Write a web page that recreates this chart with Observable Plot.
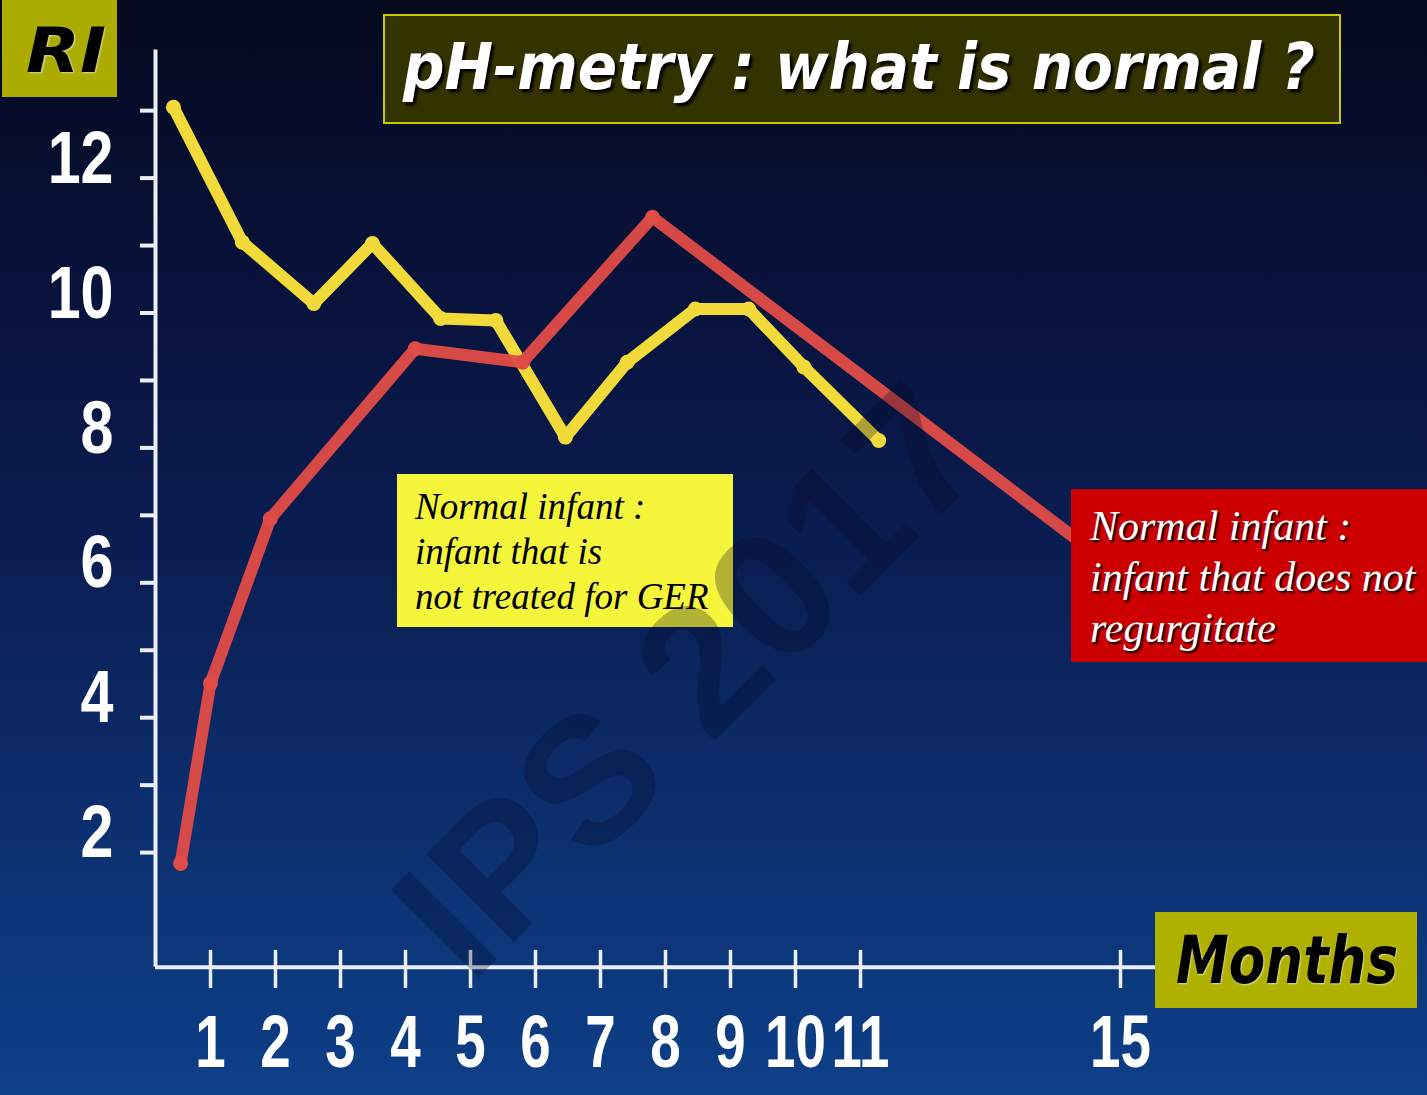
<!DOCTYPE html>
<html>
<head>
<meta charset="utf-8">
<script src="https://cdn.jsdelivr.net/npm/d3@7"></script>
<script src="https://cdn.jsdelivr.net/npm/@observablehq/plot@0.6"></script>
<style>
  html, body { margin: 0; padding: 0; background: #07102e; }
  #wrap {
    position: relative; width: 1427px; height: 1095px; overflow: hidden;
    background: linear-gradient(to bottom, #05091e 0%, #08123a 25%, #0a1d52 50%, #0c2f6e 75%, #0d3f88 100%);
  }
  #wrap svg { position: absolute; left: 0; top: 0; }
  .box { position: absolute; box-sizing: border-box; }
  .comic { font-family: "DejaVu Sans", sans-serif; font-style: oblique; font-weight: bold; white-space: nowrap; }
  .serif { font-family: "Liberation Serif", "Times New Roman", serif; font-style: italic; white-space: nowrap; }
</style>
</head>
<body>
<div id="wrap"></div>
<script>
// ---- data ----
const yellowMonths = [0.43, 1.49, 2.59, 3.49, 4.54, 5.39, 6.46, 7.41, 8.46, 9.28, 10.13, 11.28];
const yellowRI     = [13.05, 11.05, 10.14, 11.03, 9.92, 9.89, 8.16, 9.27, 10.06, 10.06, 9.20, 8.11];
const redMonths    = [0.54, 1.00, 1.92, 4.15, 5.80, 7.80, 15.0];
const redRI        = [1.84, 4.51, 6.95, 9.47, 9.27, 11.42, 6.15];
const xTicks  = [1, 2, 3, 4, 5, 6, 7, 8, 9, 10, 11, 15];
const yTicks  = [2, 3, 4, 5, 6, 7, 8, 9, 10, 11, 12, 13];
const yLabels = [2, 4, 6, 8, 10, 12];
const titleText = "pH-metry : what is normal ?";
const yAxisTitle = "RI";
const xAxisTitle = "Months";
const yellowNote = ["Normal infant :", "infant that is", "not treated for GER"];
const redNote = ["Normal infant :", "infant that does not", "regurgitate"];
const watermark = "IPS 2017";

const yellow = yellowMonths.map((m, i) => ({month: m, ri: yellowRI[i]}));
const red = redMonths.map((m, i) => ({month: m, ri: redRI[i]}));

const axisColor = "#eceef6";
const yellowColor = "#f1da3a";
const redColor = "#e24c47";
const digitFont = "'Liberation Sans', Arial, sans-serif";

const chart = Plot.plot({
  width: 1427,
  height: 1095,
  margin: 0,
  style: {background: "transparent", overflow: "visible"},
  x: {domain: [0, 20], range: [145, 145 + 20 * 65], axis: null},
  y: {domain: [0, 13], range: [987, 987 - 13 * 67.45], axis: null},
  marks: [
    Plot.ruleX([0.154], {y1: 0.3, y2: 13.9, stroke: axisColor, strokeWidth: 4}),
    Plot.ruleY([0.3], {x1: 0.154, x2: 15.6, stroke: axisColor, strokeWidth: 4}),
    Plot.ruleY(yTicks, {y: d => d, x1: -0.077, x2: 0.154, stroke: axisColor, strokeWidth: 4}),
    Plot.ruleX(xTicks, {x: d => d, y1: 0.55, y2: -0.015, stroke: axisColor, strokeWidth: 3.5}),
    Plot.text(yLabels, {x: -0.077, y: d => d, text: d => String(d), textAnchor: "end", dx: -27, dy: -19,
      fontSize: 74, fontWeight: "bold", fill: "white", fontFamily: digitFont}),
    Plot.text(xTicks, {x: d => d, y: -0.83, text: d => String(d), fontSize: 74, fontWeight: "bold",
      fill: "white", fontFamily: digitFont}),
    Plot.line(yellow, {x: "month", y: "ri", stroke: yellowColor, strokeWidth: 12, strokeLinejoin: "round", strokeLinecap: "round"}),
    Plot.dot(yellow, {x: "month", y: "ri", r: 7.5, fill: yellowColor}),
    Plot.line(red, {x: "month", y: "ri", stroke: redColor, strokeWidth: 12, strokeLinejoin: "round", strokeLinecap: "round", strokeOpacity: 0.95}),
    Plot.dot(red, {x: "month", y: "ri", r: 7.5, fill: redColor})
  ]
});

// narrow the tick digits (the original uses a condensed face)
for (const t of chart.querySelectorAll("text")) {
  const g = t.closest("g");
  const isY = g && g.getAttribute("text-anchor") === "end";
  let tr = t.getAttribute("transform") || "";
  const x = t.getAttribute("x"), y = t.getAttribute("y");
  if (x != null && x !== "" && !isNaN(+x)) { tr += ` translate(${x},0)`; t.removeAttribute("x"); }
  if (y != null && y !== "" && !isNaN(+y)) { tr += ` translate(0,${y})`; t.removeAttribute("y"); }
  t.setAttribute("transform", tr + (isY ? " scale(0.8,1)" : " scale(0.74,1)"));
}

const wrap = document.getElementById("wrap");
wrap.appendChild(chart);

function addBox(style, html) {
  const d = document.createElement("div");
  d.className = "box";
  Object.assign(d.style, style);
  d.innerHTML = html;
  wrap.appendChild(d);
  return d;
}
function fit(span, target) {
  const w = span.getBoundingClientRect().width;
  span.style.display = "inline-block";
  span.style.transformOrigin = "left center";
  span.style.transform = `scaleX(${target / w})`;
}

const ri = addBox({left: "2px", top: "0px", width: "115px", height: "97px", background: "#abab00"},
  `<span class="comic" style="position:absolute;left:24px;top:14px;font-size:62px;color:#000;text-shadow:1px 1px 2px rgba(255,255,255,0.6)">${yAxisTitle}</span>`);
fit(ri.querySelector("span"), 80);

const tb = addBox({left: "383px", top: "14px", width: "958px", height: "110px", background: "#333300", border: "2px solid #c9c900"},
  `<span class="comic" style="position:absolute;left:18px;top:14px;font-size:64px;color:#fff;text-shadow:3px 3px 3px #000">${titleText}</span>`);
fit(tb.querySelector("span"), 912);

addBox({left: "397px", top: "474px", width: "336px", height: "153px", background: "#f5f53c", padding: "10px 0 0 18px"},
  `<div class="serif" style="font-size:37px;line-height:45px;color:#000">${yellowNote.join("<br>")}</div>`);

addBox({left: "1071px", top: "489px", width: "356px", height: "173px", background: "#cc0000", padding: "12px 0 0 19px"},
  `<div class="serif" style="font-size:42px;line-height:51px;color:#fff;text-shadow:2px 2px 2px #000">${redNote.join("<br>")}</div>`);

const mb = addBox({left: "1155px", top: "912px", width: "262px", height: "96px", background: "#b0b000"},
  `<span class="comic" style="position:absolute;left:21px;top:10px;font-size:66px;color:#000;text-shadow:1px 1px 2px rgba(255,255,255,0.6)">${xAxisTitle}</span>`);
fit(mb.querySelector("span"), 222);

addBox({left: "688px", top: "680px", width: "0px", height: "0px", overflow: "visible", pointerEvents: "none"},
  `<div style="position:absolute;left:0;top:0;transform:translate(-50%,-50%) rotate(-45deg);font-family:'Liberation Sans',Arial,sans-serif;font-weight:bold;font-size:180px;white-space:nowrap;color:rgba(2,8,35,0.28);line-height:1">${watermark}</div>`);
</script>
</body>
</html>
